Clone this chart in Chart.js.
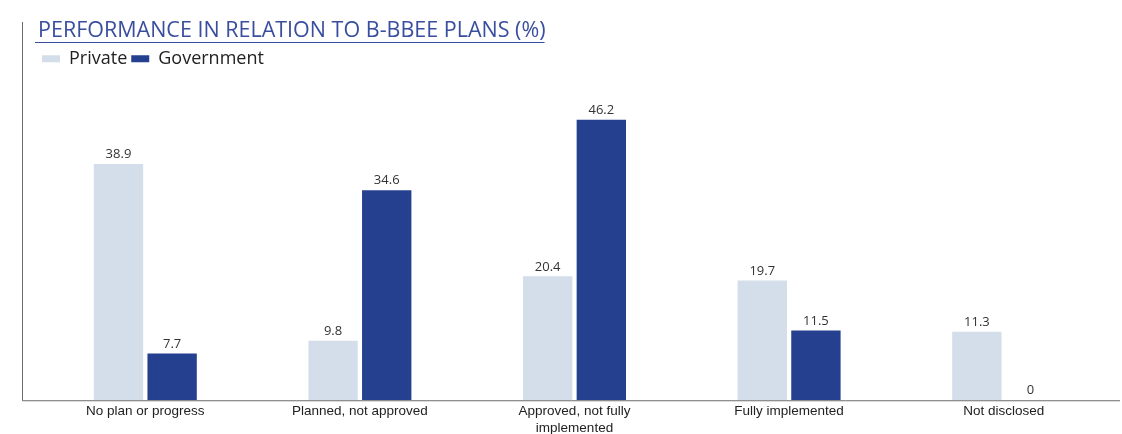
<!DOCTYPE html>
<html>
<head>
<meta charset="utf-8">
<script src="https://cdn.jsdelivr.net/npm/chart.js@4.4.0/dist/chart.umd.min.js"></script>
<style>
  html, body { margin: 0; padding: 0; background: #fff; }
  #wrap { width: 1122px; height: 434px; position: relative; }
</style>
</head>
<body>
<div id="wrap"><canvas id="bbeeChart"></canvas></div>
<script>
const categories = [
    'No plan or progress',
    'Planned, not approved',
    ['Approved, not fully', 'implemented'],
    'Fully implemented',
    'Not disclosed'
];
const privateValues = [38.9, 9.8, 20.4, 19.7, 11.3];
const governmentValues = [7.7, 34.6, 46.2, 11.5, 0];
const seriesNames = ['Private', 'Government'];
const chartTitle = 'PERFORMANCE IN RELATION TO B-BBEE PLANS (%)';

const titleColor = '#3a4e9f';

// value labels on top of each bar
const valueLabels = {
    id: 'valueLabels',
    afterDatasetsDraw(chart) {
        const ctx = chart.ctx;
        ctx.save();
        ctx.font = '13px "Open Sans", sans-serif';
        ctx.fillStyle = '#333';
        ctx.textAlign = 'center';
        ctx.textBaseline = 'bottom';
        chart.data.datasets.forEach((ds, i) => {
            chart.getDatasetMeta(i).data.forEach((bar, j) => {
                ctx.fillText(String(ds.data[j]), bar.x, bar.y - 3);
            });
        });
        ctx.restore();
    }
};

// axis frame lines and title underline
const frameLines = {
    id: 'frameLines',
    afterDraw(chart) {
        const ctx = chart.ctx;
        const area = chart.chartArea;
        ctx.save();
        ctx.strokeStyle = '#6b6b6b';
        ctx.lineWidth = 1;
        ctx.beginPath();
        ctx.moveTo(22.5, 22);
        ctx.lineTo(22.5, area.bottom + 0.5);
        ctx.lineTo(1120, area.bottom + 0.5);
        ctx.stroke();

        const t = chart.titleBlock;
        ctx.font = t.options.font.size + 'px "Open Sans", sans-serif';
        const w = ctx.measureText(chartTitle).width;
        ctx.strokeStyle = titleColor;
        ctx.beginPath();
        ctx.moveTo(35, 42.5);
        ctx.lineTo(35 + w + 2, 42.5);
        ctx.stroke();
        ctx.restore();
    }
};

const ctx = document.getElementById('bbeeChart').getContext('2d');
new Chart(ctx, {
    type: 'bar',
    data: {
        labels: categories,
        datasets: [
            {
                label: seriesNames[0],
                data: privateValues,
                backgroundColor: '#d3deea',
                barPercentage: 0.92,
                categoryPercentage: 0.5
            },
            {
                label: seriesNames[1],
                data: governmentValues,
                backgroundColor: '#25408f',
                barPercentage: 0.92,
                categoryPercentage: 0.5
            }
        ]
    },
    options: {
        responsive: true,
        maintainAspectRatio: false,
        animation: false,
        layout: {
            padding: { left: 38, right: 11, top: 12, bottom: -6 }
        },
        plugins: {
            title: {
                display: true,
                text: chartTitle,
                align: 'start',
                color: titleColor,
                font: { family: '"Open Sans", sans-serif', size: 21.5, weight: 'normal' },
                padding: { top: 6, bottom: 2 }
            },
            legend: {
                align: 'start',
                labels: {
                    boxWidth: 18,
                    boxHeight: 7,
                    color: '#222',
                    font: { family: '"Open Sans", sans-serif', size: 18 },
                    padding: 4
                }
            },
            tooltip: { enabled: false }
        },
        scales: {
            x: {
                grid: { display: false, drawTicks: false },
                border: { display: false },
                ticks: {
                    color: '#222',
                    font: { family: '"Liberation Sans", sans-serif', size: 13.5, lineHeight: 1.25 },
                    padding: 3,
                    maxRotation: 0,
                    autoSkip: false
                }
            },
            y: {
                display: false,
                min: 0,
                max: 53.1
            }
        }
    },
    plugins: [valueLabels, frameLines]
});
</script>
</body>
</html>
